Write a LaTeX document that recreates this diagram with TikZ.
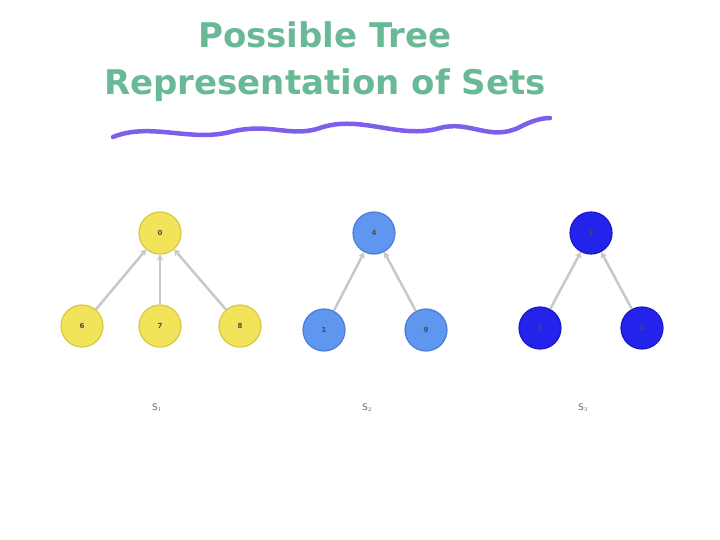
\documentclass[tikz,border=0pt]{standalone}
\usepackage{fontspec}
\setmainfont{DejaVu Sans}
\usetikzlibrary{arrows.meta}
\definecolor{titlegreen}{RGB}{105,185,150}
\definecolor{wavepurple}{RGB}{125,95,235}
\definecolor{yfill}{RGB}{242,228,90}
\definecolor{ydraw}{RGB}{215,200,60}
\definecolor{bfill}{RGB}{95,150,240}
\definecolor{bdraw}{RGB}{75,125,215}
\definecolor{dfill}{RGB}{35,35,235}
\definecolor{ddraw}{RGB}{25,25,200}
\definecolor{edgegray}{RGB}{200,200,200}
\begin{document}
\begin{tikzpicture}[x=1pt,y=-1pt,
  setnode/.style={circle,minimum size=42pt,inner sep=0pt,line width=1.2pt,font=\fontsize{7}{8}\selectfont\bfseries},
  ynode/.style={setnode,fill=yfill,draw=ydraw,text=black!70},
  bnode/.style={setnode,fill=bfill,draw=bdraw,text=black!70},
  dnode/.style={setnode,fill=dfill,draw=ddraw,text=black!70},
  link/.style={draw=edgegray,line width=2.5pt,-{Stealth[length=6pt,width=7pt]}},
  setlabel/.style={font=\fontsize{9}{10}\selectfont,text=black!60}]
\useasboundingbox (0,0) rectangle (720,540);
\node[text=titlegreen,font=\fontsize{34}{47}\selectfont\bfseries,align=center] (title) at (325,62) {Possible Tree\\Representation of Sets};
\draw[wavepurple,line width=4.5pt,line cap=round] (113,137) .. controls (150,122) and (190,142) .. (230,132)
  .. controls (270,122) and (290,138) .. (320,128) .. controls (360,114) and (400,140) .. (440,128)
  .. controls (470,120) and (490,142) .. (520,127) .. controls (535,119) and (545,118) .. (550,118);
% S1
\node[ynode] (n0) at (160,233) {0};
\node[ynode] (n6) at (82,326) {6};
\node[ynode] (n7) at (160,326) {7};
\node[ynode] (n8) at (240,326) {8};
\draw[link] (n6) -- (n0);
\draw[link] (n7) -- (n0);
\draw[link] (n8) -- (n0);
% S2
\node[bnode] (n4) at (374,233) {4};
\node[bnode] (n1) at (324,330) {1};
\node[bnode] (n9) at (426,330) {9};
\draw[link] (n1) -- (n4);
\draw[link] (n9) -- (n4);
% S3
\node[dnode] (n2) at (591,233) {2};
\node[dnode] (n3) at (540,328) {3};
\node[dnode] (n5) at (642,328) {5};
\draw[link] (n3) -- (n2);
\draw[link] (n5) -- (n2);
\node[setlabel] (s1) at (157,408) {S$_1$};
\node[setlabel] (s2) at (367,408) {S$_2$};
\node[setlabel] (s3) at (583,408) {S$_3$};
\end{tikzpicture}
\end{document}
